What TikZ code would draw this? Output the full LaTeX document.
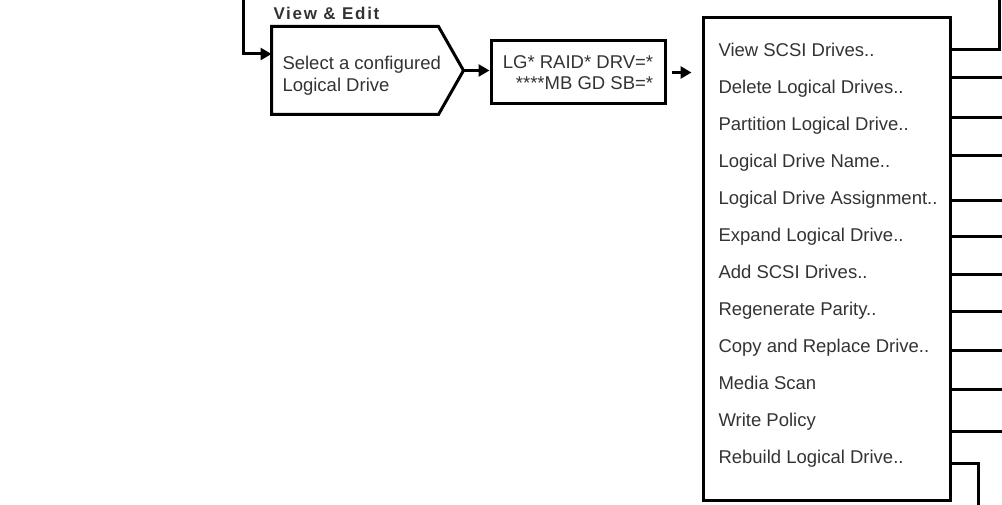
\documentclass[tikz,border=0pt]{standalone}
\usepackage{fontspec}
\setmainfont{Liberation Sans}
\usetikzlibrary{arrows.meta,positioning,calc}

\begin{document}
\begin{tikzpicture}[x=1pt, y=-1pt, >={Triangle[length=11pt,width=12pt]}, line width=3pt,
  font=\fontsize{18.5}{21.5}\selectfont, text=black!80]
\tikzstyle{box}=[draw=black, line width=3pt, inner sep=0pt]
\tikzstyle{item}=[inner sep=0pt, text height=13pt, text depth=4pt, anchor=west]
\useasboundingbox (0,0) rectangle (1002,505);

% select box with the pointed end
\node[inner sep=0pt, minimum width=164pt, minimum height=85pt] (sel) at (355,70.5) {};
\draw (sel.north west) -- (sel.north east) -- ([xshift=25pt]sel.east) coordinate (seltip)
  -- (sel.south east) -- (sel.south west) -- cycle;
\node[inner sep=0pt, align=left, anchor=north west] (seltxt) at (281,55) {Select a configured\\Logical Drive};
\node[anchor=base west, inner sep=0pt, font=\fontsize{17}{20}\selectfont\bfseries\addfontfeatures{LetterSpace=10}] (title) at (272,20) {View \& Edit};

\node[box, minimum width=174pt, minimum height=63pt, align=right] (lg) at (578,72.5) {LG* RAID* DRV=*\\****MB GD SB=*};

\node[box, minimum width=247pt, minimum height=482pt] (menu) at (826.5,259) {};

% menu items
\node[item]                               (m1)  at (717,52) {View SCSI Drives..};
\node[item, below=37pt of m1.west, anchor=west]  (m2)  {Delete Logical Drives..};
\node[item, below=37pt of m2.west, anchor=west]  (m3)  {Partition Logical Drive..};
\node[item, below=37pt of m3.west, anchor=west]  (m4)  {Logical Drive Name..};
\node[item, below=37pt of m4.west, anchor=west]  (m5)  {Logical Drive Assignment..};
\node[item, below=37pt of m5.west, anchor=west]  (m6)  {Expand Logical Drive..};
\node[item, below=37pt of m6.west, anchor=west]  (m7)  {Add SCSI Drives..};
\node[item, below=37pt of m7.west, anchor=west]  (m8)  {Regenerate Parity..};
\node[item, below=37pt of m8.west, anchor=west]  (m9)  {Copy and Replace Drive..};
\node[item, below=37pt of m9.west, anchor=west]  (m10) {Media Scan};
\node[item, below=37pt of m10.west, anchor=west] (m11) {Write Policy};
\node[item, below=37pt of m11.west, anchor=west] (m12) {Rebuild Logical Drive..};

% connectors
\coordinate (in) at (243,0);
\coordinate (up) at (999,0);
\coordinate (down) at (978,505);
\draw[->] (in) |- ([yshift=16.5pt]sel.west);
\draw[->] (seltip) -- (seltip -| lg.west);
\draw[->, shorten <=5pt, shorten >=10pt] (lg.east) -- (lg.east -| menu.west);
\draw (menu.east |- 0,50) -| (up);
\foreach \y [count=\i] in {78,118,156,201,237,275,312,350,389,431}{
  \coordinate (o\i) at (1002,\y);
  \draw (menu.east |- o\i) -- (o\i);
}
\draw (menu.east |- 0,463) -| (down);
\end{tikzpicture}
\end{document}
